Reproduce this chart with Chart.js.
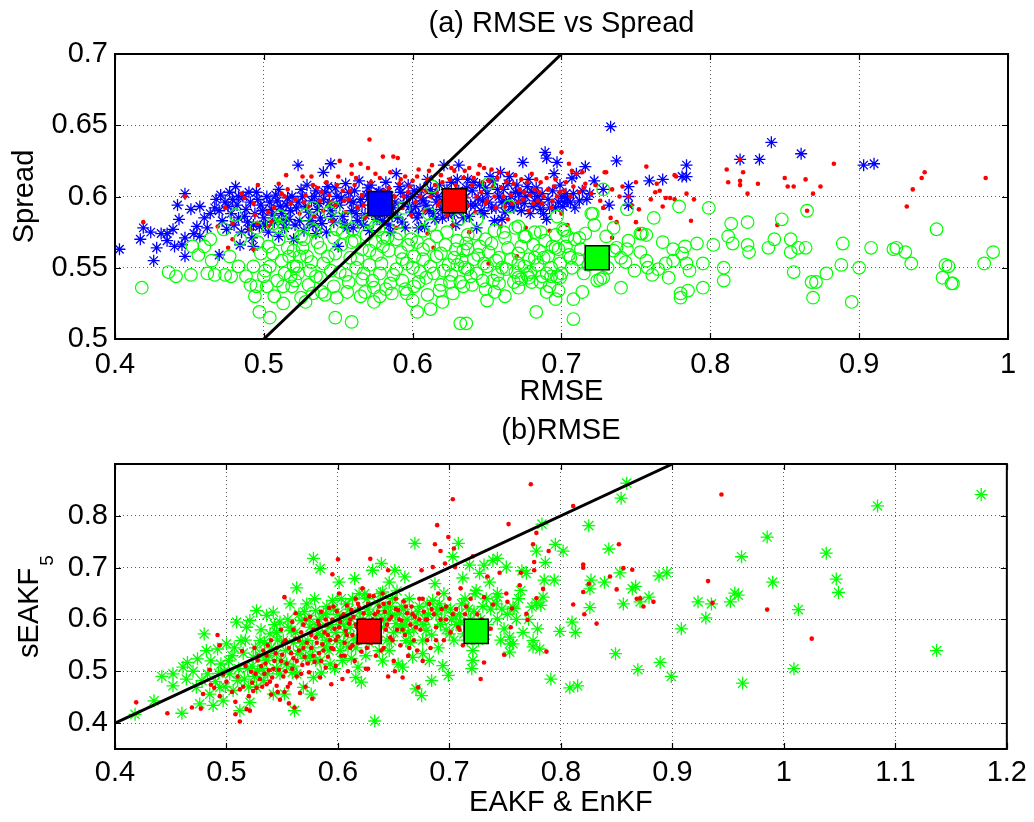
<!DOCTYPE html>
<html><head><meta charset="utf-8">
<script src="https://cdn.jsdelivr.net/npm/chart.js@4.4.1/dist/chart.umd.min.js"></script>
<style>
html,body{margin:0;padding:0;background:#fff;}
#wrap{position:relative;width:1034px;height:822px;overflow:hidden;background:#fff;}
canvas{position:absolute;left:0;display:block;}
#c1{top:0}
#c2{top:412px}
</style></head><body>
<div id="wrap">
<canvas id="c1" width="1034" height="412"></canvas>
<canvas id="c2" width="1034" height="410"></canvas>
</div>
<script>
// ---------- Panel (a): RMSE vs Spread ----------
const xTicksA = [0.4, 0.5, 0.6, 0.7, 0.8, 0.9, 1.0];
const xLabelsA = ['0.4', '0.5', '0.6', '0.7', '0.8', '0.9', '1'];
const yTicksA = [0.5, 0.55, 0.6, 0.65, 0.7];
const yLabelsA = ['0.5', '0.55', '0.6', '0.65', '0.7'];
const diagA = [0.5, 0.7];

// sEAKF5 (blue asterisks)
const spreadSEAKF = [
[0.403,0.563],[0.417,0.570],[0.419,0.578],[0.424,0.575],[0.426,0.555],[0.428,0.564],[0.431,0.574],[0.435,0.574],[0.435,0.569],[0.439,0.577],[0.440,0.565],[0.443,0.584],[0.442,0.594],[0.445,0.566],[0.447,0.602],[0.447,0.571],[0.447,0.558],[0.451,0.591],[0.453,0.574],[0.455,0.579],[0.457,0.593],[0.460,0.585],[0.464,0.588],[0.467,0.592],[0.470,0.559],[0.457,0.572],[0.462,0.578],
[0.468,0.598],[0.470,0.590],[0.472,0.583],[0.474,0.596],[0.475,0.577],[0.477,0.603],[0.478,0.588],[0.480,0.580],[0.481,0.607],[0.482,0.594],[0.483,0.585],[0.485,0.575],[0.486,0.600],[0.488,0.591],[0.489,0.582],[0.491,0.596],[0.492,0.571],[0.494,0.588],[0.495,0.603],[0.497,0.579],[0.498,0.594],[0.500,0.585],[0.502,0.600],[0.503,0.575],[0.505,0.591],[0.507,0.582],[0.509,0.597],[0.510,0.605],[0.512,0.588],[0.514,0.578],[0.515,0.594],[0.517,0.584],[0.519,0.600],[0.520,0.570],[0.484,0.566],[0.493,0.565],
[0.522,0.592],[0.523,0.622],[0.524,0.583],[0.526,0.600],[0.527,0.576],[0.529,0.608],[0.530,0.589],[0.532,0.597],[0.533,0.580],[0.535,0.604],[0.536,0.591],[0.538,0.585],[0.540,0.617],[0.540,0.598],[0.542,0.575],[0.543,0.607],[0.545,0.623],[0.545,0.590],[0.547,0.582],[0.549,0.600],[0.550,0.565],[0.551,0.594],[0.553,0.586],[0.555,0.609],[0.556,0.578],[0.558,0.597],[0.559,0.590],[0.561,0.604],[0.563,0.583],[0.564,0.611],[0.566,0.594],[0.568,0.587],[0.569,0.601],[0.571,0.576],[0.572,0.608],[0.574,0.591],[0.576,0.584],[0.577,0.603],[0.579,0.596],[0.581,0.588],[0.582,0.610],[0.584,0.580],[0.585,0.599],[0.587,0.592],[0.589,0.616],[0.590,0.585],[0.592,0.603],[0.594,0.595],[0.595,0.578],[0.597,0.608],[0.599,0.589],[0.600,0.600],
[0.602,0.593],[0.603,0.585],[0.605,0.605],[0.607,0.597],[0.608,0.579],[0.610,0.612],[0.611,0.590],[0.613,0.602],[0.615,0.584],[0.616,0.596],[0.618,0.608],[0.619,0.591],[0.621,0.622],[0.622,0.600],[0.624,0.587],[0.626,0.610],[0.627,0.595],[0.629,0.580],[0.631,0.622],[0.631,0.604],[0.633,0.591],[0.635,0.599],[0.637,0.612],[0.638,0.586],[0.640,0.604],[0.642,0.594],[0.643,0.578],[0.645,0.608],[0.647,0.597],[0.648,0.588],[0.650,0.602],[0.652,0.614],[0.653,0.592],[0.655,0.583],[0.657,0.605],[0.659,0.617],[0.660,0.596],[0.662,0.589],[0.664,0.609],[0.666,0.600],[0.668,0.592],[0.670,0.608],[0.672,0.602],[0.674,0.624],[0.675,0.595],[0.677,0.607],[0.679,0.588],[0.680,0.603],[0.682,0.597],[0.684,0.600],[0.686,0.591],[0.688,0.588],[0.689,0.631],[0.690,0.627],[0.692,0.592],[0.695,0.616],[0.697,0.624],[0.698,0.596],[0.700,0.600],[0.702,0.596],
[0.704,0.599],[0.707,0.613],[0.709,0.592],[0.710,0.616],[0.716,0.621],[0.717,0.598],[0.719,0.602],[0.722,0.611],[0.728,0.605],[0.732,0.594],[0.733,0.649],[0.737,0.625],[0.745,0.607],[0.745,0.600],[0.745,0.594],[0.759,0.611],[0.768,0.612],[0.781,0.614],[0.784,0.622],[0.784,0.614],[0.820,0.626],[0.833,0.626],[0.841,0.638],[0.861,0.630],[0.903,0.622],[0.910,0.623],
[0.471,0.601],[0.476,0.593],[0.479,0.598],[0.483,0.600],[0.487,0.586],[0.490,0.603],[0.493,0.580],[0.496,0.598],[0.499,0.590],[0.501,0.580],[0.504,0.596],[0.506,0.587],[0.508,0.601],[0.511,0.593],[0.513,0.583],[0.516,0.599],[0.518,0.590],[0.521,0.580],[0.523,0.596],[0.525,0.605],[0.528,0.593],[0.531,0.583],[0.534,0.600],[0.537,0.595],[0.539,0.581],[0.541,0.603],[0.544,0.596],[0.546,0.586],[0.548,0.606],[0.552,0.599],[0.554,0.581],[0.557,0.603],[0.560,0.596],[0.562,0.588],[0.565,0.598],[0.567,0.580],[0.570,0.606],[0.573,0.598],[0.575,0.588],[0.578,0.603],[0.580,0.583],[0.583,0.603],[0.586,0.587],[0.588,0.596],[0.591,0.607],[0.593,0.582],[0.596,0.600],[0.598,0.593],[0.601,0.604],[0.604,0.588],[0.606,0.599],[0.609,0.594],[0.612,0.605],[0.614,0.588],[0.617,0.600],[0.620,0.585],[0.623,0.605],[0.625,0.597],[0.628,0.588],[0.630,0.612],[0.632,0.598],[0.634,0.585],[0.636,0.606],[0.639,0.594],[0.641,0.610],[0.644,0.599],[0.646,0.590],[0.649,0.606],[0.651,0.596],[0.654,0.611],[0.656,0.592],[0.658,0.600],[0.661,0.605],[0.663,0.596],[0.665,0.614],[0.667,0.593],[0.669,0.603],[0.671,0.596],[0.673,0.590],[0.676,0.600],[0.678,0.612],[0.681,0.593],[0.683,0.606],[0.685,0.596],[0.687,0.602],[0.691,0.598],[0.694,0.604],[0.696,0.592],[0.699,0.608],[0.701,0.593],[0.703,0.602],[0.706,0.596],[0.708,0.602],[0.712,0.597],[0.714,0.604],[0.604,0.578],[0.585,0.575],[0.560,0.578],[0.535,0.574],[0.510,0.572],[0.490,0.577],[0.660,0.584],[0.690,0.584]
];

// EAKF (red dots)
const spreadEAKF = [
[0.419,0.582],[0.447,0.600],[0.469,0.579],[0.474,0.592],[0.476,0.564],[0.479,0.570],[0.479,0.581],[0.485,0.602],[0.487,0.599],[0.491,0.577],[0.493,0.595],[0.494,0.587],[0.493,0.563],[0.496,0.608],[0.496,0.581],[0.503,0.589],[0.503,0.579],[0.505,0.582],[0.507,0.592],[0.510,0.609],[0.512,0.602],[0.514,0.600],[0.515,0.615],[0.516,0.605],[0.518,0.595],[0.521,0.598],
[0.524,0.588],[0.526,0.614],[0.528,0.601],[0.530,0.593],[0.532,0.614],[0.534,0.586],[0.536,0.606],[0.538,0.597],[0.540,0.590],[0.542,0.610],[0.544,0.601],[0.546,0.583],[0.548,0.594],[0.550,0.614],[0.551,0.625],[0.553,0.604],[0.555,0.589],[0.557,0.598],[0.559,0.622],[0.559,0.616],[0.561,0.608],[0.563,0.592],[0.565,0.623],[0.566,0.601],[0.568,0.585],[0.570,0.620],[0.571,0.640],[0.572,0.610],[0.574,0.596],[0.576,0.589],[0.578,0.613],[0.580,0.628],[0.581,0.604],[0.583,0.594],[0.585,0.617],[0.587,0.628],[0.588,0.600],[0.589,0.578],[0.590,0.627],[0.591,0.609],[0.593,0.592],[0.595,0.614],[0.597,0.603],[0.599,0.587],[0.600,0.611],[0.602,0.596],[0.604,0.619],[0.606,0.605],[0.608,0.590],[0.610,0.574],[0.610,0.612],[0.612,0.600],[0.613,0.622],[0.614,0.564],[0.615,0.608],[0.617,0.594],[0.619,0.615],[0.621,0.602],[0.623,0.587],[0.625,0.612],[0.627,0.580],[0.628,0.618],[0.630,0.605],[0.632,0.593],[0.634,0.613],[0.636,0.600],[0.638,0.575],[0.638,0.620],[0.640,0.608],[0.642,0.589],[0.644,0.616],[0.646,0.603],[0.648,0.620],[0.649,0.595],[0.651,0.553],[0.651,0.611],[0.653,0.619],[0.655,0.600],[0.657,0.613],[0.659,0.579],[0.660,0.606],[0.662,0.593],[0.664,0.584],[0.664,0.616],[0.666,0.601],[0.668,0.609],[0.670,0.558],[0.671,0.596],[0.673,0.612],[0.675,0.603],[0.676,0.578],[0.678,0.590],[0.680,0.616],[0.682,0.605],[0.684,0.597],[0.686,0.610],[0.688,0.600],[0.690,0.613],[0.692,0.576],[0.693,0.592],[0.695,0.607],[0.697,0.600],[0.700,0.631],[0.700,0.588],[0.702,0.604],[0.704,0.580],[0.705,0.623],[0.707,0.618],[0.710,0.616],
[0.714,0.617],[0.715,0.606],[0.720,0.602],[0.728,0.592],[0.729,0.617],[0.730,0.617],[0.733,0.585],[0.734,0.605],[0.734,0.571],[0.737,0.582],[0.739,0.600],[0.745,0.600],[0.750,0.610],[0.750,0.582],[0.752,0.591],[0.752,0.577],[0.757,0.621],[0.763,0.603],[0.764,0.609],[0.768,0.593],[0.770,0.599],[0.773,0.599],[0.776,0.598],[0.776,0.615],[0.777,0.614],[0.784,0.602],[0.787,0.583],[0.789,0.598],[0.811,0.619],[0.812,0.610],[0.820,0.626],[0.820,0.611],[0.820,0.608],[0.822,0.617],[0.825,0.602],[0.832,0.609],[0.845,0.580],[0.850,0.613],[0.852,0.607],[0.856,0.607],[0.864,0.612],[0.865,0.590],[0.869,0.602],[0.874,0.607],[0.883,0.623],[0.932,0.593],[0.936,0.605],[0.942,0.613],[0.944,0.617],[0.985,0.613],
[0.527,0.596],[0.533,0.608],[0.539,0.603],[0.545,0.596],[0.549,0.608],[0.554,0.597],[0.558,0.604],[0.562,0.613],[0.567,0.594],[0.571,0.603],[0.575,0.616],[0.579,0.600],[0.584,0.606],[0.586,0.596],[0.592,0.612],[0.594,0.600],[0.598,0.607],[0.603,0.614],[0.605,0.600],[0.609,0.604],[0.611,0.618],[0.616,0.603],[0.618,0.596],[0.620,0.610],[0.624,0.599],[0.626,0.620],[0.629,0.608],[0.633,0.603],[0.635,0.618],[0.637,0.594],[0.641,0.613],[0.643,0.600],[0.645,0.622],[0.647,0.610],[0.650,0.597],[0.654,0.607],[0.656,0.592],[0.658,0.617],[0.661,0.600],[0.663,0.610],[0.667,0.595],[0.669,0.615],[0.672,0.605],[0.674,0.598],[0.677,0.610],[0.679,0.601],[0.681,0.595],[0.683,0.612],[0.685,0.603],[0.687,0.595],[0.691,0.605],[0.694,0.597],[0.696,0.612],[0.699,0.603],[0.703,0.610],[0.706,0.600],[0.708,0.607],[0.712,0.603],[0.716,0.609],[0.723,0.608],[0.726,0.597],[0.741,0.607],[0.747,0.594],[0.760,0.598],[0.766,0.604]
];

// EnKF (green circles)
const spreadEnKF = [
[0.418,0.536],[0.436,0.547],[0.441,0.544],[0.451,0.545],[0.452,0.565],[0.456,0.559],[0.460,0.565],[0.462,0.546],[0.465,0.555],[0.467,0.545],[0.464,0.570],[0.473,0.577],[0.474,0.545],[0.477,0.558],[0.478,0.544],[0.481,0.587],[0.483,0.551],[0.484,0.570],[0.488,0.544],[0.491,0.538],[0.493,0.551],[0.494,0.530],[0.495,0.578],[0.496,0.568],[0.497,0.519],[0.495,0.537],[0.500,0.544],[0.502,0.537],[0.504,0.551],[0.504,0.515],[0.506,0.560],[0.506,0.581],[0.509,0.541],[0.510,0.579],[0.511,0.586],[0.512,0.555],[0.513,0.537],[0.513,0.525],[0.513,0.581],[0.516,0.564],[0.518,0.544],[0.520,0.551],[0.519,0.537],[0.524,0.558],[0.525,0.529],[0.525,0.572],[0.528,0.587],[0.532,0.577],[0.533,0.532],[0.533,0.592],
[0.519,0.574],[0.527,0.570],[0.534,0.576],[0.547,0.571],[0.553,0.575],[0.561,0.569],[0.569,0.573],[0.577,0.577],[0.583,0.571],[0.591,0.574],[0.599,0.570],[0.607,0.576],[0.616,0.572],[0.623,0.575],[0.630,0.569],[0.637,0.573],
[0.520,0.562],[0.529,0.558],[0.538,0.564],[0.548,0.560],[0.558,0.557],[0.566,0.563],[0.576,0.559],[0.580,0.565],[0.592,0.561],[0.601,0.558],[0.607,0.563],[0.619,0.560],[0.628,0.557],[0.634,0.562],
[0.522,0.551],[0.531,0.548],[0.540,0.553],[0.551,0.547],[0.562,0.550],[0.571,0.552],[0.578,0.546],[0.589,0.549],[0.596,0.553],[0.605,0.547],[0.612,0.551],[0.621,0.548],[0.630,0.552],[0.637,0.549],
[0.521,0.541],[0.530,0.538],[0.538,0.543],[0.547,0.537],[0.557,0.540],[0.566,0.542],[0.574,0.536],[0.585,0.539],[0.593,0.541],[0.601,0.537],[0.609,0.543],[0.619,0.538],[0.625,0.540],[0.634,0.537],
[0.528,0.526],[0.541,0.531],[0.549,0.529],[0.568,0.533],[0.578,0.530],[0.586,0.532],[0.596,0.532],[0.620,0.526],[0.627,0.532],
[0.548,0.515],[0.559,0.512],[0.603,0.519],[0.632,0.511],[0.636,0.511],
[0.547,0.592],[0.544,0.589],[0.549,0.577],[0.560,0.577],[0.575,0.579],[0.580,0.571],[0.594,0.592],[0.611,0.588],[0.613,0.607],[0.631,0.584],[0.643,0.584],[0.651,0.609],[0.665,0.593],
[0.642,0.574],[0.649,0.570],[0.655,0.576],[0.662,0.571],[0.669,0.578],[0.676,0.572],[0.682,0.575],[0.689,0.569],[0.696,0.573],[0.702,0.576],[0.709,0.570],[0.716,0.574],
[0.637,0.563],[0.644,0.559],[0.651,0.561],[0.658,0.557],[0.664,0.564],[0.671,0.560],[0.678,0.556],[0.685,0.562],[0.691,0.558],[0.698,0.563],[0.705,0.559],[0.711,0.556],
[0.635,0.550],[0.643,0.546],[0.650,0.551],[0.657,0.545],[0.663,0.549],[0.671,0.553],[0.679,0.547],[0.687,0.544],[0.693,0.550],[0.700,0.546],
[0.640,0.538],[0.649,0.535],[0.658,0.539],[0.671,0.536],[0.680,0.540],[0.692,0.537],[0.698,0.534],
[0.655,0.533],[0.683,0.519],[0.708,0.514],[0.708,0.528],[0.696,0.528],[0.690,0.533],[0.714,0.533],[0.699,0.543],[0.686,0.540],[0.724,0.541],[0.728,0.543],[0.677,0.545],[0.671,0.543],[0.728,0.605],[0.744,0.591],[0.720,0.588],[0.722,0.580],[0.754,0.574],[0.671,0.579],[0.686,0.575],[0.697,0.586],
[0.799,0.592],[0.779,0.593],[0.762,0.585],[0.814,0.581],[0.825,0.582],[0.848,0.584],[0.865,0.590],[0.952,0.577],[0.812,0.572],[0.815,0.567],[0.825,0.566],[0.826,0.561],[0.839,0.564],[0.843,0.570],[0.854,0.570],[0.854,0.561],[0.859,0.564],[0.864,0.564],[0.889,0.567],[0.908,0.564],[0.923,0.563],[0.925,0.564],[0.931,0.561],[0.935,0.553],[0.990,0.561],[0.984,0.553],[0.958,0.552],[0.960,0.551],[0.956,0.543],[0.962,0.539],[0.963,0.539],[0.900,0.550],[0.888,0.552],[0.878,0.546],[0.871,0.540],[0.868,0.540],[0.869,0.529],[0.895,0.526],[0.856,0.547],[0.809,0.550],[0.809,0.541],[0.795,0.536],[0.785,0.534],[0.780,0.532],[0.780,0.529],[0.795,0.553],[0.786,0.548],[0.784,0.553],[0.802,0.566],[0.791,0.567],[0.783,0.565],[0.781,0.560],[0.775,0.563],[0.768,0.568],[0.775,0.555],[0.770,0.553],[0.765,0.549],[0.758,0.550],[0.757,0.555],[0.753,0.561],[0.757,0.573],[0.753,0.574],[0.743,0.554],[0.744,0.563],[0.737,0.564],[0.726,0.542],[0.721,0.588],[0.678,0.543],[0.693,0.544],[0.697,0.544],[0.673,0.542],[0.669,0.547],[0.675,0.572],[0.701,0.577],[0.704,0.572],[0.712,0.571],[0.696,0.564],[0.682,0.557],[0.706,0.557],[0.735,0.562],[0.740,0.557],[0.745,0.569],[0.761,0.545],[0.772,0.543],[0.749,0.548],[0.718,0.552],[0.731,0.550],[0.740,0.536],
[0.498,0.560],[0.501,0.548],[0.503,0.565],[0.507,0.530],[0.510,0.570],[0.514,0.546],[0.517,0.558],[0.523,0.546],[0.526,0.564],[0.532,0.554],[0.535,0.544],[0.536,0.568],[0.539,0.533],[0.543,0.558],[0.545,0.548],[0.552,0.566],[0.555,0.545],[0.556,0.533],[0.559,0.568],[0.563,0.556],[0.565,0.530],[0.567,0.546],[0.571,0.562],[0.573,0.541],[0.575,0.568],[0.579,0.553],[0.582,0.535],[0.584,0.562],[0.587,0.545],[0.589,0.570],[0.593,0.556],[0.595,0.535],[0.597,0.566],[0.600,0.550],[0.603,0.568],[0.604,0.540],[0.607,0.556],[0.610,0.531],[0.611,0.566],[0.614,0.546],[0.616,0.558],[0.618,0.534],[0.622,0.566],[0.624,0.552],[0.626,0.545],[0.629,0.563],[0.632,0.540],[0.633,0.555],[0.636,0.567],[0.639,0.544],[0.641,0.556],[0.645,0.565],[0.647,0.541],[0.648,0.553],[0.653,0.567],[0.654,0.541],[0.656,0.555],[0.660,0.550],[0.661,0.575],[0.666,0.556],[0.668,0.540],[0.673,0.565],[0.675,0.551],[0.681,0.566],[0.684,0.552],[0.688,0.557],[0.690,0.546],[0.694,0.565],[0.699,0.553],[0.703,0.565],[0.707,0.550],[0.713,0.563],[0.715,0.546],[0.719,0.558],[0.730,0.572],[0.735,0.578],[0.612,0.580],[0.590,0.582],[0.570,0.583],[0.555,0.585],[0.600,0.527],[0.574,0.526],[0.612,0.521],[0.650,0.527],[0.662,0.530]
];

const meanSEAKF_A = [[0.578, 0.595]];
const meanEAKF_A = [[0.628, 0.597]];
const meanEnKF_A = [[0.724, 0.557]];

// ---------- Panel (b): RMSE ----------
const xTicksB = [0.4, 0.5, 0.6, 0.7, 0.8, 0.9, 1.0, 1.1, 1.2];
const xLabelsB = ['0.4', '0.5', '0.6', '0.7', '0.8', '0.9', '1', '1.1', '1.2'];
const yTicksB = [0.4, 0.5, 0.6, 0.7, 0.8];
const yLabelsB = ['0.4', '0.5', '0.6', '0.7', '0.8'];
const diagB = [0.4, 0.9];
const yTitleB = ['sEAKF', '5'];   // main text, subscript

// EnKF RMSE vs sEAKF5 RMSE (green asterisks)
const rmseEnKF = [
[0.418,0.417],[0.435,0.443],[0.442,0.490],[0.452,0.472],[0.452,0.495],[0.460,0.419],[0.461,0.508],[0.464,0.485],[0.465,0.517],[0.473,0.469],[0.474,0.524],[0.476,0.437],[0.480,0.572],[0.482,0.540],[0.483,0.495],[0.485,0.456],[0.488,0.434],[0.492,0.543],[0.494,0.469],[0.495,0.514],[0.497,0.443],[0.500,0.553],[0.503,0.495],[0.506,0.463],[0.509,0.595],[0.510,0.482],[0.512,0.424],[0.513,0.559],[0.518,0.585],[0.519,0.505],[0.521,0.440],[0.521,0.598],[0.524,0.527],[0.527,0.617],[0.527,0.469],[0.530,0.559],[0.533,0.482],[0.536,0.608],[0.536,0.521],[0.539,0.572],[0.542,0.614],[0.542,0.456],[0.545,0.534],[0.548,0.595],[0.548,0.495],[0.551,0.559],[0.552,0.456],[0.554,0.514],[0.557,0.630],[0.558,0.579],[0.561,0.424],[0.563,0.661],[0.563,0.495],[0.564,0.534],[0.567,0.598],[0.569,0.469],[0.572,0.630],[0.573,0.559],[0.576,0.456],[0.578,0.718],[0.578,0.488],[0.580,0.617],[0.580,0.521],[0.582,0.572],[0.584,0.698],[0.587,0.611],[0.588,0.547],[0.591,0.585],[0.593,0.514],[0.595,0.637],[0.597,0.505],[0.599,0.559],[0.601,0.672],[0.601,0.598],[0.604,0.521],[0.607,0.630],[0.609,0.547],[0.612,0.600],[0.615,0.679],[0.616,0.488],[0.618,0.508],[0.619,0.650],[0.621,0.479],[0.622,0.572],[0.625,0.530],[0.631,0.695],[0.633,0.404],[0.637,0.540],[0.639,0.708],[0.640,0.653],[0.643,0.624],[0.646,0.672],[0.648,0.559],[0.651,0.695],[0.654,0.514],[0.655,0.611],[0.658,0.508],[0.660,0.682],[0.661,0.559],[0.667,0.527],[0.669,0.747],[0.670,0.466],[0.675,0.453],[0.676,0.534],[0.679,0.579],[0.682,0.521],[0.684,0.482],[0.685,0.637],[0.687,0.669],[0.691,0.630],[0.694,0.511],[0.699,0.492],[0.700,0.572],[0.703,0.721],[0.708,0.747],[0.709,0.611],[0.713,0.572],[0.718,0.705],[0.720,0.505],[0.721,0.540],[0.721,0.521],[0.724,0.656],[0.727,0.689],[0.731,0.705],[0.736,0.672],[0.739,0.714],[0.743,0.718],[0.743,0.643],[0.743,0.601],[0.743,0.650],[0.749,0.582],[0.751,0.701],[0.754,0.566],[0.754,0.553],[0.754,0.537],[0.757,0.624],[0.757,0.553],[0.758,0.621],[0.764,0.656],[0.765,0.694],[0.769,0.689],[0.774,0.624],[0.775,0.559],[0.775,0.547],[0.778,0.732],[0.778,0.632],[0.779,0.582],[0.781,0.543],[0.782,0.627],[0.783,0.784],[0.784,0.643],[0.785,0.676],[0.786,0.710],[0.791,0.485],[0.794,0.676],[0.795,0.745],[0.799,0.577],[0.802,0.732],[0.808,0.468],[0.810,0.595],[0.813,0.575],[0.815,0.472],[0.825,0.781],[0.826,0.659],[0.826,0.623],[0.827,0.676],[0.839,0.672],[0.843,0.736],[0.849,0.534],[0.854,0.834],[0.853,0.690],[0.856,0.630],[0.859,0.863],[0.864,0.659],[0.867,0.664],[0.869,0.503],[0.871,0.634],[0.879,0.643],[0.888,0.684],[0.889,0.517],[0.895,0.690],[0.899,0.490],[0.908,0.582],[0.923,0.634],[0.930,0.603],[0.935,0.630],[0.952,0.634],[0.956,0.651],[0.959,0.647],[0.962,0.721],[0.963,0.477],[0.985,0.759],[0.990,0.672],[1.009,0.505],[1.013,0.619],[1.038,0.728],[1.047,0.678],[1.049,0.652],[1.084,0.819],[1.137,0.540],[1.177,0.841],
[0.600,0.610],[0.605,0.590],[0.610,0.620],[0.614,0.565],[0.620,0.600],[0.626,0.640],[0.628,0.610],[0.634,0.595],[0.636,0.630],[0.641,0.585],[0.645,0.612],[0.649,0.640],[0.652,0.592],[0.657,0.625],[0.662,0.600],[0.664,0.640],[0.668,0.580],[0.672,0.615],[0.678,0.600],[0.688,0.610],[0.692,0.590],[0.696,0.620],[0.702,0.600],[0.706,0.590],[0.711,0.630],[0.716,0.560],[0.722,0.615],[0.726,0.560],[0.730,0.625],[0.734,0.590],[0.590,0.625],[0.583,0.600],[0.575,0.585],[0.570,0.615],[0.566,0.540],[0.560,0.555],[0.555,0.600],[0.545,0.575],[0.540,0.545],[0.530,0.530],[0.525,0.490],[0.515,0.535],[0.505,0.530],[0.498,0.500],[0.490,0.480],[0.560,0.510],[0.575,0.530],[0.590,0.560],[0.606,0.575],[0.616,0.545],[0.630,0.570],[0.646,0.540],[0.660,0.590],[0.676,0.560],[0.690,0.545],[0.704,0.560],[0.718,0.585],[0.545,0.505],[0.532,0.505],[0.520,0.470],[0.585,0.497],[0.602,0.540],[0.612,0.525],[0.628,0.555],[0.640,0.520],[0.650,0.575],[0.665,0.555],[0.680,0.630],[0.695,0.650],[0.712,0.680],[0.723,0.650],[0.733,0.640],[0.747,0.620],[0.760,0.600],
[0.470,0.500],[0.478,0.482],[0.486,0.520],[0.493,0.496],[0.499,0.470],[0.502,0.520],[0.507,0.545],[0.511,0.505],[0.516,0.485],[0.517,0.560],[0.523,0.510],[0.526,0.545],[0.528,0.500],[0.531,0.580],[0.534,0.555],[0.537,0.495],[0.538,0.530],[0.543,0.590],[0.546,0.560],[0.549,0.520],[0.553,0.540],[0.556,0.585],[0.559,0.498],[0.562,0.575],[0.565,0.610],[0.568,0.555],[0.571,0.525],[0.574,0.600],[0.577,0.545],[0.579,0.640],[0.581,0.590],[0.584,0.520],[0.586,0.570],[0.589,0.610],[0.592,0.540],[0.594,0.590],[0.596,0.620],[0.598,0.575],[0.603,0.640],[0.605,0.555],[0.608,0.605],[0.611,0.585],[0.613,0.640],[0.617,0.560],[0.619,0.615],[0.623,0.590],[0.624,0.650],[0.627,0.620],[0.632,0.580],[0.635,0.610],[0.638,0.650],[0.642,0.600],[0.644,0.560],[0.647,0.625],[0.651,0.610],[0.653,0.655],[0.656,0.585],[0.659,0.620],[0.663,0.575],[0.666,0.610],[0.670,0.595],[0.673,0.625],[0.677,0.590],[0.681,0.610],[0.684,0.570],[0.689,0.620],[0.693,0.600],[0.697,0.580],[0.701,0.620],[0.705,0.605],[0.710,0.595],[0.714,0.640],[0.717,0.620],[0.719,0.600],[0.728,0.600],[0.732,0.570],[0.737,0.620],[0.742,0.630],[0.746,0.560],[0.752,0.610],[0.762,0.640],[0.766,0.575],[0.771,0.600]
];

// EAKF RMSE vs sEAKF5 RMSE (red dots)
const rmseEAKF = [
[0.419,0.440],[0.447,0.419],[0.469,0.430],[0.477,0.428],[0.479,0.456],[0.485,0.503],[0.486,0.474],[0.489,0.468],[0.492,0.570],[0.494,0.550],[0.494,0.452],[0.497,0.494],[0.508,0.417],[0.508,0.441],[0.512,0.403],[0.512,0.465],[0.514,0.539],[0.518,0.427],[0.521,0.424],[0.520,0.452],[0.523,0.478],[0.522,0.499],[0.525,0.545],[0.527,0.468],[0.528,0.521],[0.530,0.485],[0.531,0.510],[0.533,0.540],[0.534,0.495],[0.536,0.475],[0.536,0.530],[0.538,0.502],[0.540,0.455],[0.540,0.560],[0.541,0.488],[0.543,0.520],[0.545,0.472],[0.545,0.545],[0.547,0.503],[0.548,0.445],[0.549,0.580],[0.550,0.532],[0.551,0.490],[0.552,0.643],[0.552,0.460],[0.553,0.560],[0.554,0.515],[0.556,0.438],[0.556,0.545],[0.557,0.477],[0.559,0.595],[0.559,0.505],[0.560,0.525],[0.561,0.430],[0.562,0.612],[0.562,0.563],[0.563,0.490],[0.565,0.540],[0.566,0.458],[0.567,0.575],[0.568,0.512],[0.569,0.590],[0.570,0.528],[0.571,0.470],[0.572,0.555],[0.574,0.498],[0.575,0.605],[0.576,0.545],[0.577,0.447],[0.578,0.580],[0.579,0.518],[0.580,0.565],[0.582,0.597],[0.583,0.535],[0.584,0.488],[0.585,0.615],[0.586,0.552],[0.588,0.575],[0.589,0.507],[0.590,0.590],[0.591,0.528],[0.592,0.622],[0.593,0.560],[0.594,0.475],[0.595,0.687],[0.595,0.600],[0.596,0.543],[0.597,0.582],[0.598,0.510],[0.599,0.616],[0.600,0.716],[0.600,0.567],[0.601,0.650],[0.602,0.595],[0.603,0.530],[0.604,0.485],[0.605,0.610],[0.606,0.555],[0.607,0.578],[0.608,0.627],[0.609,0.500],[0.610,0.592],[0.611,0.545],[0.612,0.618],[0.613,0.570],[0.614,0.605],[0.615,0.520],[0.616,0.640],[0.617,0.585],[0.618,0.555],[0.619,0.623],[0.620,0.598],[0.621,0.538],[0.622,0.660],[0.623,0.612],[0.624,0.575],[0.625,0.505],[0.627,0.630],[0.627,0.505],[0.629,0.717],[0.629,0.590],[0.630,0.555],[0.632,0.645],[0.633,0.610],[0.634,0.530],[0.635,0.580],[0.637,0.625],[0.638,0.565],[0.639,0.600],[0.640,0.650],[0.641,0.545],[0.642,0.615],[0.644,0.590],[0.645,0.695],[0.645,0.490],[0.646,0.632],[0.647,0.565],[0.648,0.605],[0.650,0.520],[0.651,0.500],[0.652,0.640],[0.653,0.580],[0.654,0.618],[0.656,0.550],[0.657,0.598],[0.658,0.488],[0.659,0.635],[0.660,0.570],[0.662,0.612],[0.663,0.530],[0.665,0.590],[0.666,0.625],[0.668,0.560],[0.669,0.605],[0.671,0.540],[0.672,0.469],[0.673,0.640],[0.674,0.580],[0.675,0.695],[0.676,0.520],[0.677,0.615],[0.679,0.600],[0.680,0.560],[0.682,0.630],[0.683,0.545],[0.685,0.701],[0.686,0.610],[0.687,0.745],[0.688,0.585],[0.689,0.782],[0.690,0.650],[0.692,0.732],[0.693,0.620],[0.695,0.560],[0.696,0.708],[0.697,0.600],[0.699,0.759],[0.700,0.640],[0.701,0.575],[0.703,0.832],[0.704,0.737],[0.705,0.701],[0.706,0.620],[0.708,0.585],[0.710,0.660],[0.712,0.550],[0.714,0.610],[0.716,0.590],[0.719,0.640],[0.721,0.722],[0.722,0.565],[0.725,0.610],[0.728,0.485],[0.729,0.600],[0.731,0.517],[0.731,0.643],[0.734,0.683],[0.737,0.582],[0.739,0.629],[0.745,0.690],[0.749,0.532],[0.751,0.650],[0.752,0.634],[0.753,0.784],[0.755,0.585],[0.756,0.621],[0.763,0.666],[0.764,0.690],[0.769,0.611],[0.770,0.599],[0.773,0.861],[0.775,0.745],[0.776,0.711],[0.776,0.695],[0.778,0.767],[0.778,0.641],[0.784,0.659],[0.787,0.538],[0.789,0.732],[0.811,0.819],[0.811,0.629],[0.820,0.706],[0.820,0.700],[0.821,0.610],[0.825,0.669],[0.820,0.653],[0.832,0.592],[0.844,0.683],[0.850,0.658],[0.852,0.745],[0.856,0.699],[0.864,0.696],[0.868,0.640],[0.871,0.641],[0.874,0.625],[0.883,0.634],[0.932,0.674],[0.936,0.632],[0.944,0.841],[0.985,0.619],[1.025,0.563],
[0.500,0.480],[0.505,0.460],[0.510,0.490],[0.515,0.470],[0.517,0.510],[0.524,0.462],[0.526,0.495],[0.529,0.530],[0.532,0.470],[0.535,0.515],[0.537,0.550],[0.539,0.480],[0.542,0.505],[0.544,0.535],[0.546,0.460],[0.549,0.520],[0.551,0.555],[0.553,0.500],[0.555,0.470],[0.558,0.535],[0.560,0.580],[0.563,0.520],[0.565,0.560],[0.567,0.495],[0.569,0.545],[0.571,0.600],[0.573,0.515],[0.576,0.570],[0.578,0.530],[0.581,0.555],[0.583,0.590],[0.585,0.520],[0.587,0.540],[0.589,0.600],[0.591,0.570],[0.594,0.545],[0.596,0.625],[0.598,0.560],[0.601,0.585],[0.603,0.605],[0.606,0.530],[0.608,0.570],[0.611,0.600],[0.613,0.550],[0.616,0.590],[0.618,0.630],[0.621,0.570],[0.623,0.600],[0.626,0.545],[0.628,0.645],[0.631,0.600],[0.633,0.570],[0.636,0.615],[0.639,0.540],[0.641,0.630],[0.643,0.580],[0.646,0.600],[0.649,0.560],[0.652,0.620],[0.655,0.600],[0.658,0.580],[0.661,0.625],[0.664,0.545],[0.667,0.610],[0.670,0.585],[0.673,0.600],[0.676,0.640],[0.680,0.600],[0.684,0.620],[0.688,0.560],[0.692,0.600],[0.697,0.625],[0.703,0.610],[0.709,0.580],[0.715,0.625]
];

const meanEAKF_B = [[0.628, 0.577]];
const meanEnKF_B = [[0.724, 0.577]];

// ---------- helpers ----------
const FONT = "'Liberation Sans', Arial, Helvetica, sans-serif";
Chart.defaults.font.family = FONT;
Chart.defaults.font.size = 29;
Chart.defaults.color = '#000';

const pts = arr => arr.map(p => ({x: p[0], y: p[1]}));
const diag = d => [{x: d[0], y: d[0]}, {x: d[1], y: d[1]}];

function labelOf(ticks, labels) {
  return v => {
    const i = ticks.findIndex(t => Math.abs(t - v) < 1e-9);
    return i >= 0 ? labels[i] : '';
  };
}

function axis(o) {
  return {
    type: 'linear', min: o.min, max: o.max, position: o.pos,
    afterBuildTicks: s => { s.ticks = o.ticks.map(v => ({value: v})); },
    afterFit: s => { if (o.pos === 'bottom') s.height = o.size; else s.width = o.size; },
    ticks: { autoSkip: false, maxRotation: 0, minRotation: 0, padding: o.tickPad, color: '#000',
             font: {size: 29}, callback: labelOf(o.ticks, o.labels) },
    grid: { drawTicks: false, color: 'rgba(0,0,0,0.65)', lineWidth: 1 },
    border: { display: false, dash: [1, 3] },
    title: { display: o.title !== null, text: o.title || '', color: '#000', font: {size: 29}, padding: o.titlePad }
  };
}

const boxPlugin = {
  id: 'matlabBox',
  afterDraw(chart) {
    const {ctx, chartArea: a, scales} = chart;
    const L = 6;
    ctx.save();
    ctx.strokeStyle = '#000';
    ctx.lineWidth = 1.2;
    ctx.beginPath();
    scales.x.ticks.forEach(t => {
      const p = Math.round(scales.x.getPixelForValue(t.value)) + 0.5;
      ctx.moveTo(p, a.bottom); ctx.lineTo(p, a.bottom - L);
      ctx.moveTo(p, a.top); ctx.lineTo(p, a.top + L);
    });
    scales.y.ticks.forEach(t => {
      const p = Math.round(scales.y.getPixelForValue(t.value)) + 0.5;
      ctx.moveTo(a.left, p); ctx.lineTo(a.left + L, p);
      ctx.moveTo(a.right, p); ctx.lineTo(a.right - L, p);
    });
    ctx.stroke();
    ctx.lineWidth = 2;
    ctx.strokeRect(a.left, a.top, a.right - a.left, a.bottom - a.top);
    ctx.restore();
  }
};

// y-axis title with a real subscript for panel (b)
const subTitlePlugin = {
  id: 'subTitle',
  afterDraw(chart) {
    const {ctx, chartArea: a} = chart;
    const cy = (a.top + a.bottom) / 2;
    ctx.save();
    ctx.translate(37.5, cy);
    ctx.rotate(-Math.PI / 2);
    ctx.fillStyle = '#000';
    ctx.textBaseline = 'alphabetic';
    ctx.textAlign = 'left';
    ctx.font = '29px ' + FONT;
    const w1 = ctx.measureText(yTitleB[0]).width;
    ctx.font = '19px ' + FONT;
    const w2 = ctx.measureText(yTitleB[1]).width;
    const start = -(w1 + 2 + w2) / 2;
    ctx.font = '29px ' + FONT;
    ctx.fillText(yTitleB[0], start, 0);
    ctx.font = '19px ' + FONT;
    ctx.fillText(yTitleB[1], start + w1 + 2, 15);
    ctx.restore();
  }
};

function lineDs(d) {
  return { data: diag(d), showLine: true, borderColor: '#000', borderWidth: 3, pointRadius: 0, fill: false };
}
function squareDs(arr, color) {
  return { data: pts(arr), pointStyle: 'rect', pointRadius: 17, backgroundColor: color,
           borderColor: '#000', borderWidth: 1.5 };
}

const common = {
  responsive: false, animation: false, devicePixelRatio: 1,
  events: [],
  plugins: { legend: {display: false}, tooltip: {enabled: false} }
};

// ---------- chart (a) ----------
new Chart(document.getElementById('c1'), {
  type: 'scatter',
  data: { datasets: [
    lineDs(diagA),
    squareDs(meanSEAKF_A, '#0000ff'),
    squareDs(meanEAKF_A, '#ff0000'),
    squareDs(meanEnKF_A, '#00ff00'),
    { data: pts(spreadEnKF), pointStyle: 'circle', pointRadius: 6.3, backgroundColor: 'rgba(0,0,0,0)', borderColor: '#00ff00', borderWidth: 1.2 },
    { data: pts(spreadEAKF), pointStyle: 'circle', pointRadius: 2.3, backgroundColor: '#ff0000', borderColor: '#ff0000', borderWidth: 0 },
    { data: pts(spreadSEAKF), pointStyle: 'star', pointRadius: 6, backgroundColor: '#0000ff', borderColor: '#0000ff', borderWidth: 1.3 }
  ]},
  options: Object.assign({}, common, {
    layout: { padding: {left: 0, right: 26, top: 0, bottom: 0} },
    plugins: Object.assign({}, common.plugins, {
      title: { display: true, text: '(a) RMSE vs Spread', color: '#000', font: {size: 29, weight: 'normal'},
               fullSize: false, padding: {top: 6.6, bottom: 12.6} }
    }),
    scales: {
      x: axis({min: 0.4, max: 1.0, pos: 'bottom', ticks: xTicksA, labels: xLabelsA, title: 'RMSE',
               size: 73, tickPad: 9, titlePad: {top: 0, bottom: 2.6}}),
      y: axis({min: 0.5, max: 0.7, pos: 'left', ticks: yTicksA, labels: yLabelsA, title: 'Spread',
               size: 115, tickPad: 7, titlePad: {top: 7.6, bottom: 0}})
    }
  }),
  plugins: [boxPlugin]
});

// ---------- chart (b) ----------
new Chart(document.getElementById('c2'), {
  type: 'scatter',
  data: { datasets: [
    lineDs(diagB),
    squareDs(meanEAKF_B, '#ff0000'),
    squareDs(meanEnKF_B, '#00ff00'),
    { data: pts(rmseEAKF), pointStyle: 'circle', pointRadius: 2.3, backgroundColor: '#ff0000', borderColor: '#ff0000', borderWidth: 0 },
    { data: pts(rmseEnKF), pointStyle: 'star', pointRadius: 6.5, backgroundColor: '#00ff00', borderColor: '#00ff00', borderWidth: 1.3 }
  ]},
  options: Object.assign({}, common, {
    layout: { padding: {left: 0, right: 26, top: 0, bottom: 0} },
    plugins: Object.assign({}, common.plugins, {
      title: { display: true, text: '(b)RMSE', color: '#000', font: {size: 29, weight: 'normal'},
               fullSize: false, padding: {top: 1.6, bottom: 15.6} }
    }),
    scales: {
      x: axis({min: 0.4, max: 1.2, pos: 'bottom', ticks: xTicksB, labels: xLabelsB, title: 'EAKF & EnKF',
               size: 73, tickPad: 7, titlePad: {top: 0, bottom: 1.6}}),
      y: axis({min: 0.35, max: 0.9, pos: 'left', ticks: yTicksB, labels: yLabelsB, title: null,
               size: 115, tickPad: 7, titlePad: {top: 0, bottom: 0}})
    }
  }),
  plugins: [boxPlugin, subTitlePlugin]
});
</script>
</body></html>
